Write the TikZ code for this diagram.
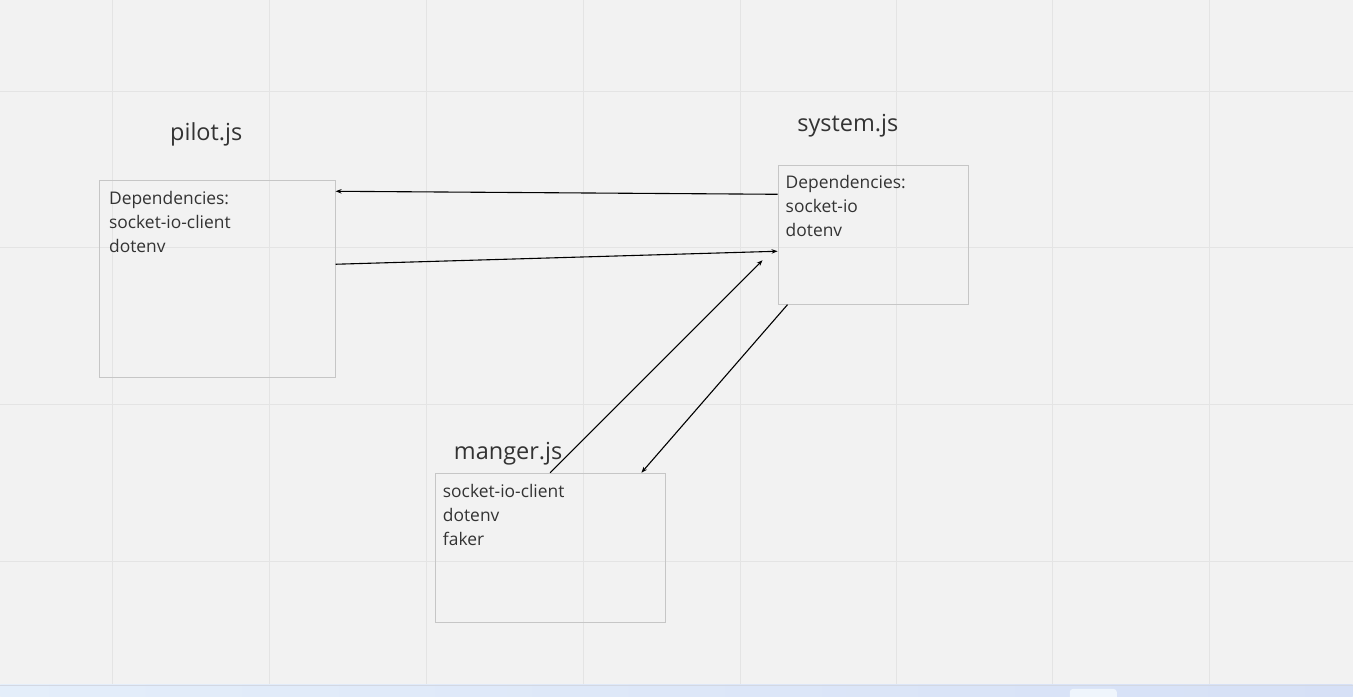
\documentclass[tikz,border=0pt]{standalone}
\usepackage{fontspec}
\setmainfont{Open Sans}
\usepackage{xcolor}
\usetikzlibrary{arrows.meta, calc}
\definecolor{boardbg}{RGB}{242,242,242}
\definecolor{gridline}{RGB}{228,228,228}
\definecolor{boxline}{RGB}{198,198,198}
\definecolor{inktext}{RGB}{51,51,51}
\definecolor{barleft}{RGB}{228,238,250}
\definecolor{barright}{RGB}{214,224,246}

\begin{document}
\begin{tikzpicture}[
        x=1pt, y=-1pt,
        kasten/.style={draw=boxline,line width=0.8pt,inner sep=0pt},
        titel/.style={font=\fontsize{23.5}{28}\selectfont,text=inktext,inner sep=0pt},
        inhalt/.style={font=\fontsize{17.4}{24}\selectfont,text=inktext,align=left,anchor=north west,inner sep=0pt},
        pfeil/.style={-{Stealth[length=6pt,width=4.5pt]},line width=1.1pt,black}
    ]
        \fill[boardbg] (0,0) rectangle (1353,697);
        \foreach \gx in {112,269,426,583,740,897,1053,1210}
            \draw[gridline,line width=0.8pt] (\gx,0) -- (\gx,685);
        \foreach \gy in {91,247,404,561}
            \draw[gridline,line width=0.8pt] (0,\gy) -- (1353,\gy);
        \shade[left color=barleft,right color=barright] (0,685) rectangle (1353,697);
        \draw[barright!85!black!60,line width=0.6pt] (0,685) -- (1353,685);
        \fill[barleft!60!white,rounded corners=3pt] (1070,697) -- (1070,689) -- (1117,689) -- (1117,697);

        \node[kasten,minimum width=236pt,minimum height=197pt] (pilot) at (217,278.5) {};
        \node[kasten,minimum width=191pt,minimum height=139pt] (system) at (873.5,234.5) {};
        \node[kasten,minimum width=230pt,minimum height=149pt] (manger) at (550,547.5) {};

        \node[titel] (pilotT) at (206,134) {pilot.js};
        \node[titel] (systemT) at (848,125) {system.js};
        \node[titel] (mangerT) at (508,454) {manger.js};

        \node[inhalt] (pilotI) at ($(pilot.north west)+(10,11.5)$) {Dependencies:\\socket-io-client\\dotenv};
        \node[inhalt] (systemI) at ($(system.north west)+(8,10.5)$) {Dependencies:\\socket-io\\dotenv};
        \node[inhalt] (mangerI) at ($(manger.north west)+(8,11.5)$) {socket-io-client\\dotenv\\faker};

        \draw[pfeil] ([yshift=40.5pt]system.west) -- ([yshift=87.5pt]pilot.east);
        \draw[pfeil] ([yshift=14.5pt]pilot.east) -- ([yshift=-16.5pt]system.west);
        \draw[pfeil] (manger.north) -- ([xshift=-15pt,yshift=-25.5pt]system.west);
        \draw[pfeil] ([xshift=10pt]system.south west) -- ([xshift=-24pt]manger.north east);
    \end{tikzpicture}
\end{document}
